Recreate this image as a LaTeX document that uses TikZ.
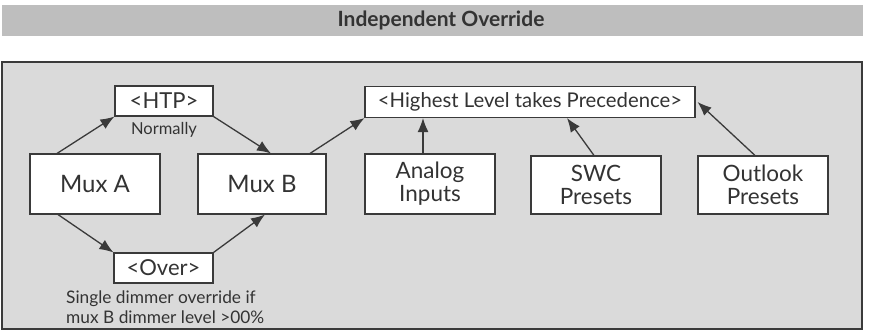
\documentclass[tikz,border=0pt]{standalone}
\usepackage{fontspec}
\setmainfont{Lato}
\usetikzlibrary{arrows.meta}
\definecolor{barfill}{HTML}{BEBEBE}
\definecolor{panelfill}{HTML}{DADADA}
\definecolor{ink}{HTML}{3A3A3A}
\definecolor{txt}{HTML}{333333}
\begin{document}
\begin{tikzpicture}[x=1pt,y=-1pt,
  box/.style={draw=ink,line width=1.1pt,fill=white,text=txt,inner sep=0pt,align=center,font=\fontsize{22.5}{23}\selectfont},
  bigbox/.style={box,minimum width=130pt,minimum height=60pt},
  tag/.style={box,minimum height=30pt},
  arr/.style={draw=ink,line width=1.3pt,-{Latex[length=14pt,width=11pt]}},
  note/.style={text=txt,inner sep=0pt,font=\fontsize{16.5}{20}\selectfont}]
\useasboundingbox (0,0) rectangle (869,332);
\fill[white] (0,0) rectangle (869,332);
\fill[barfill] (2,5) rectangle (863,36);
\node[text=txt,font=\fontsize{21}{22}\selectfont\bfseries] (title) at (441,20) {Independent Override};
\draw[draw=ink,line width=1.2pt,fill=panelfill] (2,62) rectangle (862,329);
% nodes
\node[tag,minimum width=98pt,font=\fontsize{22}{23}\selectfont] (htp) at (164,101) {<HTP>};
\node[note] (normally) at (164,130) {Normally};
\node[bigbox,font=\fontsize{24}{25}\selectfont] (muxa) at (95,184) {Mux A};
\node[bigbox,minimum width=128pt,font=\fontsize{24}{25}\selectfont] (muxb) at (262,184) {Mux B};
\node[tag,minimum width=99pt,font=\fontsize{22}{23}\selectfont] (over) at (163.5,268) {<Over>};
\node[note,align=left,anchor=west,font=\fontsize{17.3}{20}\selectfont] (cap) at (66,307) {Single dimmer override if\\mux B dimmer level >00\%};
\node[tag,minimum width=330pt,minimum height=31pt,font=\fontsize{20.3}{22}\selectfont] (high) at (530,102) {<Highest Level takes Precedence>};
\node[bigbox] (analog) at (430,184) {Analog\\Inputs};
\node[bigbox,minimum height=58pt] (swc) at (596,185) {SWC\\Presets};
\node[bigbox,minimum height=58pt] (outlook) at (763,185) {Outlook\\Presets};
% connectors
\draw[arr] ([xshift=-38pt]muxa.north) -- (htp.south west);
\draw[arr] (htp.south east) -- ([xshift=9pt]muxb.north);
\draw[arr] ([xshift=48pt]muxb.north) -- (high.south west);
\draw[arr] ([xshift=-7pt]analog.north) -- ([xshift=-107pt]high.south);
\draw[arr] ([xshift=-2pt]swc.north) -- ([xshift=37pt]high.south);
\draw[arr] ([xshift=-8pt]outlook.north) -- ([xshift=2pt]high.east);
\draw[arr] ([xshift=-37pt]muxa.south) -- (over.north west);
\draw[arr] (over.north east) -- ([xshift=3pt]muxb.south);
\end{tikzpicture}
\end{document}
